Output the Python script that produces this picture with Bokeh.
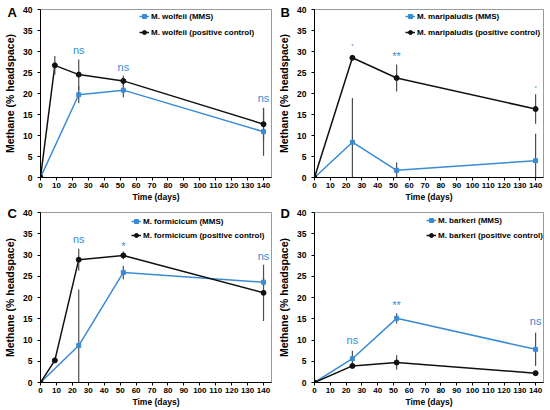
from bokeh.plotting import figure
from bokeh.models import (ColumnDataSource, Legend, LegendItem, Range1d,
                          SingleIntervalTicker)
from bokeh.layouts import column, row
from bokeh.embed import file_html
from bokeh.resources import INLINE
from bokeh.core.properties import value

# ---------------- data ----------------
# Panel A: M. wolfeii
a_days_mms = [0, 24, 52, 140]
a_mms = [0, 19.7, 20.8, 10.9]
a_mms_err = [0, 2.0, 1.7, 5.7]
a_days_pc = [0, 9, 24, 52, 140]
a_pc = [0, 26.7, 24.5, 23.0, 12.7]
a_pc_err = [0, 2.2, 3.6, 1.2, 3.8]
a_sig = ["ns", "ns", "ns"]
a_sig_days = [24, 52, 140]
a_sig_y = [30.4, 26.3, 19.0]

# Panel B: M. maripaludis
b_days_mms = [0, 24, 52, 140]
b_mms = [0, 8.4, 1.7, 4.0]
b_mms_err = [0, 10.5, 1.9, 6.4]
b_days_pc = [0, 24, 52, 140]
b_pc = [0, 28.5, 23.7, 16.3]
b_pc_err = [0, 0.3, 3.2, 3.5]
b_sig = ["*", "**", "*"]
b_sig_days = [24, 52, 140]
b_sig_y = [31.2, 28.9, 21.3]

# Panel C: M. formicicum
c_days_mms = [0, 24, 52, 140]
c_mms = [0, 8.7, 25.9, 23.6]
c_mms_err = [0, 13.2, 1.6, 1.0]
c_days_pc = [0, 9, 24, 52, 140]
c_pc = [0, 5.2, 28.9, 29.9, 21.1]
c_pc_err = [0, 0.2, 2.6, 0.9, 6.6]
c_sig = ["ns", "*", "ns"]
c_sig_days = [24, 52, 140]
c_sig_y = [33.8, 32.2, 29.7]

# Panel D: M. barkeri
d_days_mms = [0, 24, 52, 140]
d_mms = [0, 5.6, 15.1, 7.8]
d_mms_err = [0, 1.9, 1.2, 3.9]
d_days_pc = [0, 24, 52, 140]
d_pc = [0, 3.9, 4.7, 2.2]
d_pc_err = [0, 0.3, 1.7, 0.3]
d_sig = ["ns", "**", "ns"]
d_sig_days = [24, 52, 140]
d_sig_y = [10.0, 18.3, 14.4]

x_label = "Time (days)"
y_label = "Methane (% headspace)"

BLUE = "#3a8bd4"
BLACK = "#111111"
ERR = "#4d4d4d"
FONT = "Liberation Sans"


def panel(letter, name, dm, m, me, dp, pc, pe, sig, sig_d, sig_y, small_single,
          width, height, mbl, mbr, mbt, mbb, leg_xy, leg_spacing, letter_off,
          letter_standoff):
    p = figure(width=width, height=height, output_backend="svg",
               toolbar_location=None, x_range=Range1d(0, 145),
               y_range=Range1d(0, 40), min_border_left=mbl,
               min_border_right=mbr, min_border_top=mbt, min_border_bottom=mbb)
    p.title.text = letter
    p.title.align = "left"
    p.title.offset = letter_off
    p.title.standoff = letter_standoff
    p.title.text_font = FONT
    p.title.text_font_style = "bold"
    p.title.text_font_size = "13px"
    p.title.text_color = "black"
    p.grid.visible = False
    p.outline_line_color = "#9a9a9a"
    p.outline_line_width = 1
    p.background_fill_color = "white"
    p.border_fill_color = "white"
    p.xaxis.ticker = SingleIntervalTicker(interval=10)
    p.yaxis.ticker = SingleIntervalTicker(interval=5)
    for ax in (p.xaxis[0], p.yaxis[0]):
        ax.axis_line_color = "black"
        ax.axis_line_width = 1
        ax.major_tick_line_color = "black"
        ax.major_tick_in = 0
        ax.major_tick_out = 3
        ax.minor_tick_line_color = None
        ax.major_label_text_font = FONT
        ax.major_label_text_font_style = "bold"
        ax.major_label_text_color = "black"
        ax.axis_label_text_font = FONT
        ax.axis_label_text_font_style = "bold"
        ax.axis_label_text_color = "black"
    p.xaxis.major_label_text_font_size = "8px"
    p.yaxis.major_label_text_font_size = "8.5px"
    p.xaxis.axis_label = x_label
    p.yaxis.axis_label = y_label
    p.xaxis.axis_label_text_font_size = "8.5px"
    p.yaxis.axis_label_text_font_size = "10.5px"
    p.xaxis.major_label_standoff = 1
    p.xaxis.axis_label_standoff = 1
    p.yaxis.major_label_standoff = 4
    p.yaxis.axis_label_standoff = 4

    sm = ColumnDataSource(dict(x=dm, y=m, lo=[a - b for a, b in zip(m, me)],
                               hi=[a + b for a, b in zip(m, me)]))
    sp = ColumnDataSource(dict(x=dp, y=pc, lo=[a - b for a, b in zip(pc, pe)],
                               hi=[a + b for a, b in zip(pc, pe)]))
    l_m = p.line("x", "y", source=sm, line_color=BLUE, line_width=1.5)
    l_p = p.line("x", "y", source=sp, line_color=BLACK, line_width=1.5)
    p.segment("x", "lo", "x", "hi", source=sm, line_color=ERR, line_width=1.2)
    p.segment("x", "lo", "x", "hi", source=sp, line_color=ERR, line_width=1.2)
    s_m = p.scatter("x", "y", source=sm, marker="square", size=4,
                    fill_color=BLUE, line_color=BLUE)
    s_p = p.scatter("x", "y", source=sp, marker="circle", size=5,
                    fill_color=BLACK, line_color=BLACK)

    sizes = []
    for s in sig:
        if s == "*" and small_single:
            sizes.append("6px")
        else:
            sizes.append("11px")
    ss = ColumnDataSource(dict(x=sig_d, y=sig_y, t=sig, fs=sizes))
    p.text("x", "y", text="t", source=ss, text_color=BLUE,
           text_font=value(FONT), text_font_size="fs",
           text_align="center", text_baseline="middle")

    leg = Legend(items=[LegendItem(label=name + " (MMS)", renderers=[l_m, s_m]),
                        LegendItem(label=name + " (positive control)",
                                   renderers=[l_p, s_p])],
                 location=leg_xy, orientation="vertical",
                 label_text_font=FONT, label_text_font_style="bold",
                 label_text_font_size="8px", label_text_color="black",
                 label_height=10, glyph_height=10, glyph_width=10,
                 label_standoff=2, spacing=leg_spacing, padding=0, margin=0,
                 border_line_color=None, background_fill_alpha=0)
    p.add_layout(leg, "center")
    return p


pA = panel("A", "M. wolfeii", a_days_mms, a_mms, a_mms_err, a_days_pc, a_pc,
           a_pc_err, a_sig, a_sig_days, a_sig_y, False,
           275, 205, 40, 4, 9, 28, (99, 140), 6, -33, -21)
pB = panel("B", "M. maripaludis", b_days_mms, b_mms, b_mms_err, b_days_pc,
           b_pc, b_pc_err, b_sig, b_sig_days, b_sig_y, True,
           275, 205, 37, 7, 9, 28, (91, 140), 6, -34, -21)
pC = panel("C", "M. formicicum", c_days_mms, c_mms, c_mms_err, c_days_pc,
           c_pc, c_pc_err, c_sig, c_sig_days, c_sig_y, False,
           275, 205, 40, 4, 7, 28, (91, 142), 4, -33, -17)
pD = panel("D", "M. barkeri", d_days_mms, d_mms, d_mms_err, d_days_pc, d_pc,
           d_pc_err, d_sig, d_sig_days, d_sig_y, False,
           275, 205, 37, 7, 7, 28, (112, 142), 5, -34, -17)

layout = column(row(pA, pB), row(pC, pD))
open("out.html", "w").write(file_html(layout, INLINE))
